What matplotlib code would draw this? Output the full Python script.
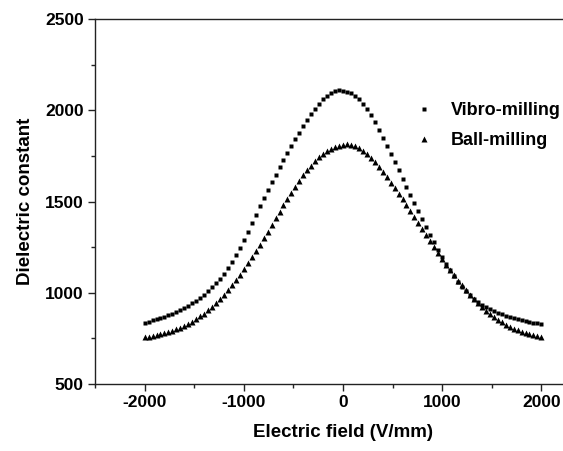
import matplotlib
matplotlib.use('Agg')
import matplotlib.pyplot as plt
from matplotlib.ticker import MultipleLocator

# electric field steps (V/mm)
field = list(range(-2000, 2001, 40))

# values
vibro = [836, 842, 848, 855, 862, 869, 877, 886, 896, 907,
         918, 930, 943, 957, 972, 989, 1008, 1029, 1052, 1077,
         1105, 1136, 1170, 1207, 1247, 1290, 1335, 1381, 1427, 1473,
         1518, 1562, 1605, 1647, 1688, 1728, 1767, 1805, 1842, 1878,
         1913, 1947, 1979, 2009, 2036, 2059, 2078, 2094, 2105, 2109,
         2106,
         2101, 2092, 2078, 2059, 2035, 2006, 1972, 1934, 1893, 1850,
         1806, 1761, 1716, 1671, 1626, 1581, 1536, 1491, 1446, 1402,
         1359, 1317, 1276, 1236, 1197, 1160, 1125, 1092, 1061, 1033,
         1008, 986, 967, 950, 935, 922, 911, 900, 890, 881,
         873, 866, 860, 854, 849, 844, 840, 836, 833, 830]

ball = [755, 759, 763, 767, 772, 778, 784, 791, 799, 808,
        818, 829, 841, 855, 870, 886, 904, 923, 944, 966,
        990, 1016, 1043, 1071, 1100, 1130, 1162, 1195, 1229, 1264,
        1299, 1335, 1371, 1407, 1443, 1479, 1514, 1548, 1581, 1613,
        1643, 1671, 1697, 1721, 1742, 1760, 1775, 1788, 1798, 1806,
        1811,
        1813, 1810, 1803, 1792, 1777, 1759, 1738, 1714, 1688, 1661,
        1633, 1604, 1574, 1543, 1511, 1479, 1446, 1413, 1380, 1347,
        1314, 1281, 1248, 1216, 1185, 1154, 1124, 1095, 1067, 1040,
        1014, 989, 965, 942, 920, 900, 882, 866, 851, 837,
        825, 814, 804, 795, 787, 780, 773, 767, 762, 757]

plt.rcParams['font.family'] = ['Liberation Sans', 'DejaVu Sans']
plt.rcParams['font.weight'] = 'bold'
plt.rcParams['axes.unicode_minus'] = False

fig = plt.figure(figsize=(5.63, 4.51), dpi=100)
# axes run past the right edge of the picture, as in the reference
ax = fig.add_axes([95 / 563, 67 / 451, 496 / 563, 365 / 451])

ax.plot(field, vibro, 's', color='black', ms=3.2, mec='none', label='Vibro-milling')
ax.plot(field, ball, '^', color='black', ms=4, mec='none', label='Ball-milling')

ax.set_xlim(-2500, 2500)
ax.set_ylim(500, 2500)
ax.xaxis.set_major_locator(MultipleLocator(1000))
ax.xaxis.set_minor_locator(MultipleLocator(500))
ax.yaxis.set_major_locator(MultipleLocator(500))
ax.yaxis.set_minor_locator(MultipleLocator(250))

for s in ['left', 'bottom', 'top']:
    ax.spines[s].set_linewidth(1.0)
    ax.spines[s].set_color('#222222')
ax.spines['right'].set_visible(False)

ax.tick_params(which='major', direction='out', length=5, width=1, labelsize=12.5,
               color='#222222', pad=3)
ax.tick_params(which='minor', direction='out', length=3, width=1, color='#222222')
for lab in ax.get_xticklabels() + ax.get_yticklabels():
    lab.set_fontweight('bold')

ax.set_xlabel('Electric field (V/mm)', fontsize=13.5, fontweight='bold', labelpad=10)
ax.set_ylabel('Dielectric constant', fontsize=13.5, fontweight='bold', labelpad=8)

leg = ax.legend(loc='upper left', bbox_to_anchor=(394 / 563, 1 - 86 / 451),
                bbox_transform=fig.transFigure, frameon=False,
                prop={'size': 13, 'weight': 'bold'}, handletextpad=0.75,
                labelspacing=0.7, handlelength=1.5, markerscale=1.1)

fig.savefig('out.png', dpi=100)
